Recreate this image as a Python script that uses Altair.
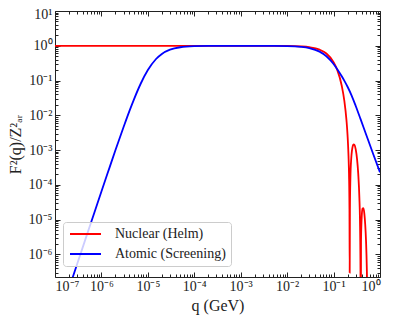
import json
import altair as alt
import pandas as pd

FONT = "Liberation Serif"
INK = "#222222"

# ---- data (q in GeV, F^2/Z^2) ----
q_nuclear = [1e-7, 1e-5, 1e-4, 1e-3, 3e-3, 0.01, 0.02, 0.03, 0.05, 0.07, 0.1,
             0.12, 0.15, 0.17, 0.19, 0.20, 0.21, 0.215, 0.22, 0.2224, 0.225,
             0.23, 0.24, 0.26, 0.27, 0.28, 0.30, 0.32, 0.34, 0.36, 0.37, 0.38,
             0.3824, 0.39, 0.40, 0.42, 0.44, 0.46, 0.48, 0.50, 0.52, 0.53,
             0.54, 0.56, 0.60]
f_nuclear = [1.0, 1.0, 1.0, 1.0, 0.9991, 0.9898, 0.9598, 0.9116, 0.7718,
             0.5994, 0.3399, 0.2029, 0.07102, 0.02708, 0.007049, 0.002708,
             6.56e-4, 2.06e-4, 1.99e-5, 3e-7, 1.86e-5, 1.417e-4, 5.67e-4,
             1.329e-3, 1.468e-3, 1.435e-3, 1.051e-3, 5.60e-4, 2.073e-4,
             4.10e-5, 1.015e-5, 3.1e-7, 1e-12, 2.25e-6, 8.99e-6, 2.076e-5,
             2.16e-5, 1.497e-5, 7.39e-6, 2.465e-6, 4.01e-7, 7.66e-8, 1e-12,
             1.2e-7, 1.9e-7]

q_atomic = [1e-7, 2e-7, 3e-7, 5e-7, 7e-7, 1e-6, 1.5e-6, 2e-6, 3e-6, 4e-6,
            5e-6, 7e-6, 1e-5, 1.5e-5, 2e-5, 3e-5, 5e-5, 1e-4, 2e-4, 5e-4,
            1e-3, 3e-3, 0.01, 0.02, 0.03, 0.05, 0.07, 0.1, 0.12, 0.15, 0.17,
            0.2, 0.245, 0.3, 0.38, 0.5, 0.7, 1.0]
f_atomic = [6.6e-9, 1.05e-7, 5.3e-7, 4.1e-6, 1.56e-5, 6.5e-5, 3.2e-4, 9.9e-4,
            4.6e-3, 0.0132, 0.0284, 0.081, 0.200, 0.417, 0.584, 0.773, 0.908,
            0.976, 0.994, 0.999, 0.9996, 0.998, 0.983, 0.935, 0.862, 0.68,
            0.50, 0.30, 0.212, 0.133, 0.0998, 0.0665, 0.037, 0.0186, 0.0079,
            0.00287, 8.3e-4, 2.3e-4]

series_names = ["Nuclear (Helm)", "Atomic (Screening)"]
series_colors = ["#ff0000", "#0000ff"]

x_major = [1e-7, 1e-6, 1e-5, 1e-4, 1e-3, 1e-2, 1e-1, 1e0]
x_labels = ["10⁻⁷", "10⁻⁶", "10⁻⁵", "10⁻⁴", "10⁻³", "10⁻²", "10⁻¹", "10⁰"]
y_major = [1e-6, 1e-5, 1e-4, 1e-3, 1e-2, 1e-1, 1e0, 1e1]
y_labels = ["10⁻⁶", "10⁻⁵", "10⁻⁴", "10⁻³", "10⁻²", "10⁻¹", "10⁰", "10¹"]
x_domain = [1e-7, 1.0]
y_domain = [2.25e-7, 10.0]
x_minor = [k * 10.0 ** e for e in range(-7, 0) for k in range(2, 10)]
y_minor = [k * 10.0 ** e for e in range(-7, 1) for k in range(2, 10)
           if k * 10.0 ** e >= y_domain[0]]

df = pd.concat([
    pd.DataFrame({"q": q_nuclear, "F": f_nuclear, "series": series_names[0]}),
    pd.DataFrame({"q": q_atomic, "F": f_atomic, "series": series_names[1]}),
])

xscale = alt.Scale(type="log", domain=x_domain, nice=False)
yscale = alt.Scale(type="log", domain=y_domain, nice=False)

x_label_expr = json.dumps(x_labels, ensure_ascii=False) + "[round(log(datum.value)/LN10)+7]"
y_label_expr = json.dumps(y_labels, ensure_ascii=False) + "[round(log(datum.value)/LN10)+6]"

common = dict(domain=False, grid=False, tickColor=INK, tickWidth=1,
              labelFont=FONT, labelFontSize=14, labelColor=INK,
              titleFont=FONT, titleFontSize=16, titleFontWeight="normal",
              titleColor=INK)


def axis(orient, values, size, labels=False, expr=None, title=None, **kw):
    opts = dict(common)
    opts.update(kw)
    if labels:
        return alt.Axis(orient=orient, values=values, tickSize=size, offset=-size,
                        labelExpr=expr, title=title, **opts)
    return alt.Axis(orient=orient, values=values, tickSize=size, offset=-size,
                    labels=False, title=None, **opts)


base = alt.Chart(df)

lines = base.mark_line(strokeWidth=1.8, clip=True, interpolate="monotone").encode(
    x=alt.X("q:Q", scale=xscale,
            axis=axis("bottom", x_major, 5, True, x_label_expr, "q (GeV)",
                      labelPadding=2, titlePadding=4)),
    y=alt.Y("F:Q", scale=yscale,
            axis=axis("left", y_major, 5, True, y_label_expr, "F²(q)/Z²ₐᵣ",
                      labelPadding=3, titlePadding=5,
                      labelOffset={"condition": {"test": "datum.value > 5",
                                                 "value": 3},
                                   "value": 0})),
    color=alt.Color("series:N",
                    scale=alt.Scale(domain=series_names, range=series_colors),
                    legend=alt.Legend(title=None, orient="none", legendX=8,
                                      legendY=211,
                                      fillColor="rgba(255,255,255,0.8)",
                                      strokeColor="#cccccc", cornerRadius=3,
                                      padding=5,
                                      symbolType="M-3.1,0H3.1",
                                      symbolSize=100, symbolStrokeWidth=2,
                                      symbolOffset=10.5,
                                      labelFont=FONT, labelFontSize=14,
                                      labelColor=INK, labelOffset=22.5,
                                      rowPadding=6)),
)


def ghost(xax, yax):
    return base.mark_line(opacity=0, clip=True).encode(
        x=alt.X("q:Q", scale=xscale, axis=xax),
        y=alt.Y("F:Q", scale=yscale, axis=yax),
        detail="series:N",
    )


layers = [
    lines,
    ghost(axis("bottom", x_minor, 3), axis("left", y_minor, 3)),
    ghost(axis("top", x_major, 5), axis("right", y_major, 5)),
    ghost(axis("top", x_minor, 3), axis("right", y_minor, 3)),
]

chart = (
    alt.layer(*layers)
    .resolve_axis(x="independent", y="independent")
    .properties(width=325, height=266,
                padding={"left": 47, "top": 3, "right": 7, "bottom": 40},
                autosize=alt.AutoSizeParams(type="none"))
    .configure_view(stroke=INK, strokeWidth=1)
)

chart.save("out.html", embed_options={"renderer": "svg", "actions": False})
